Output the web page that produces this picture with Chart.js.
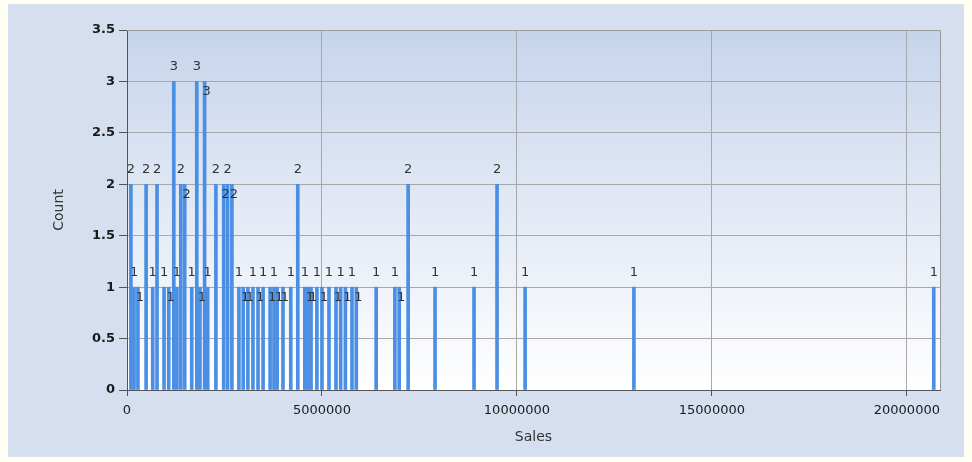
<!DOCTYPE html>
<html>
<head>
<meta charset="utf-8">
<script src="https://cdn.jsdelivr.net/npm/chart.js@4/dist/chart.umd.min.js"></script>
<style>
  html, body { margin: 0; padding: 0; background: #fffff4; }
  #wrap { width: 972px; height: 462px; }
</style>
</head>
<body>
<div id="wrap"><canvas id="sales-chart" width="972" height="462"></canvas></div>
<script>
// sales value (bin position) and how many records fall on it
const salesValues = [
  100000, 180000, 280000, 490000, 660000, 770000, 950000, 1070000, 1200000, 1280000,
  1380000, 1480000, 1660000, 1790000, 1870000, 1990000, 2070000, 2280000, 2480000, 2580000,
  2690000, 2870000, 2980000, 3100000, 3230000, 3360000, 3490000, 3670000, 3770000, 3850000,
  4000000, 4200000, 4380000, 4560000, 4640000, 4720000, 4870000, 5000000, 5180000, 5360000,
  5480000, 5600000, 5770000, 5880000, 6390000, 6870000, 6980000, 7210000, 7900000, 8900000,
  9490000, 10210000, 13000000, 20690000
];
const counts = [
  2, 1, 1, 2, 1, 2, 1, 1, 3, 1,
  2, 2, 1, 3, 1, 3, 1, 2, 2, 2,
  2, 1, 1, 1, 1, 1, 1, 1, 1, 1,
  1, 1, 2, 1, 1, 1, 1, 1, 1, 1,
  1, 1, 1, 1, 1, 1, 1, 2, 1, 1,
  2, 1, 1, 1
];
const xTicks = [0, 5000000, 10000000, 15000000, 20000000];
const xMax = 20850000;
const yMax = 3.5;
const yStep = 0.5;

const points = salesValues.map((v, i) => ({ x: v, y: counts[i] }));
const font = '"DejaVu Sans", "Liberation Sans", sans-serif';

const backdrop = {
  id: 'backdrop',
  beforeDraw(chart) {
    const c = chart.ctx;
    const a = chart.chartArea;
    c.save();
    c.fillStyle = '#fffff4';
    c.fillRect(0, 0, chart.width, chart.height);
    c.fillStyle = '#d5dfef';
    c.fillRect(8, 4, 956, 453);
    const g = c.createLinearGradient(0, a.top, 0, a.bottom);
    g.addColorStop(0, '#c6d4eb');
    g.addColorStop(1, '#ffffff');
    c.fillStyle = g;
    c.fillRect(a.left, a.top, a.right - a.left, a.bottom - a.top);
    c.restore();
  },
  afterDraw(chart) {
    const c = chart.ctx;
    const a = chart.chartArea;
    c.save();
    c.strokeStyle = '#9a9a9a';
    c.lineWidth = 1;
    c.beginPath();
    c.moveTo(a.left, a.top + 0.5);
    c.lineTo(a.right + 0.5, a.top + 0.5);
    c.lineTo(a.right + 0.5, a.bottom);
    c.stroke();
    c.restore();
  }
};

// count labels over the bars; a label that would collide with the one
// before it at the same height is pushed down inside the bar
const barLabels = {
  id: 'barLabels',
  afterDatasetsDraw(chart) {
    const c = chart.ctx;
    const meta = chart.getDatasetMeta(0);
    const lastAbove = {};
    c.save();
    c.font = '13px ' + font;
    c.fillStyle = '#333333';
    c.textAlign = 'center';
    meta.data.forEach((bar, i) => {
      const v = counts[i];
      const prev = lastAbove[v];
      if (prev !== undefined && bar.x - prev < 9) {
        c.textBaseline = 'top';
        c.fillText(String(v), bar.x + 2, bar.y + 4);
      } else {
        c.textBaseline = 'bottom';
        c.fillText(String(v), bar.x, bar.y - 8);
        lastAbove[v] = bar.x;
      }
    });
    c.restore();
  }
};

new Chart(document.getElementById('sales-chart'), {
  type: 'bar',
  data: {
    datasets: [{
      label: 'Count',
      data: points,
      backgroundColor: '#4a8fe3',
      borderWidth: 0,
      barThickness: 3
    }]
  },
  options: {
    responsive: false,
    animation: false,
    layout: {
      padding: { left: 47, right: 32, top: 30, bottom: 12 }
    },
    plugins: {
      legend: { display: false },
      tooltip: { enabled: false }
    },
    scales: {
      x: {
        type: 'linear',
        min: 0,
        max: xMax,
        offset: false,
        grid: {
          offset: false,
          color: '#a8a8a8',
          tickColor: '#555555',
          tickLength: 6
        },
        border: { color: '#555555' },
        ticks: {
          maxRotation: 0,
          padding: 7,
          color: '#1a1a1a',
          font: { family: font, size: 13 },
          callback: (v) => String(v)
        },
        afterBuildTicks(scale) {
          scale.ticks = xTicks.map((v) => ({ value: v }));
        },
        title: {
          display: true,
          text: 'Sales',
          color: '#333333',
          font: { family: font, size: 14 }
        },
        afterFit(scale) { scale.height = 60; }
      },
      y: {
        min: 0,
        max: yMax,
        grid: {
          color: '#a8a8a8',
          tickColor: '#555555',
          tickLength: 8
        },
        border: { color: '#555555' },
        ticks: {
          stepSize: yStep,
          padding: 4,
          color: '#1a1a1a',
          font: { family: font, size: 13, weight: 'bold' },
          callback: (v) => String(v)
        },
        title: {
          display: true,
          text: 'Count',
          color: '#333333',
          font: { family: font, size: 14 }
        },
        afterFit(scale) { scale.width = 80; }
      }
    }
  },
  plugins: [backdrop, barLabels]
});
</script>
</body>
</html>
